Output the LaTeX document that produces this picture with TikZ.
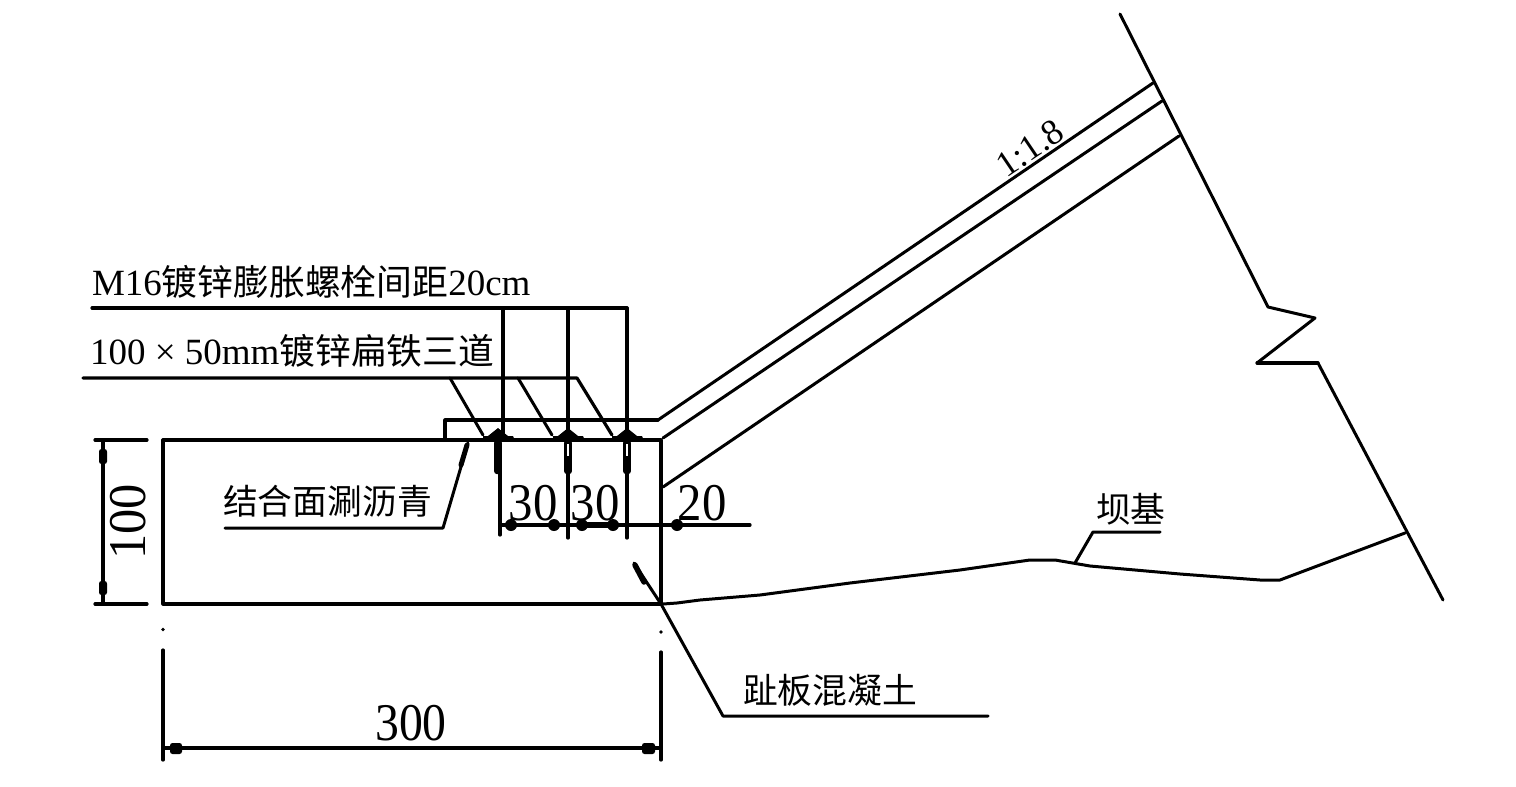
\documentclass[tikz,border=0pt]{standalone}
\usepackage{fontspec}
\setmainfont{Liberation Serif}
\newfontfamily\cjk{Noto Sans CJK SC}
\newcommand{\lab}[1]{\fontsize{37}{37}\selectfont #1}
\newcommand{\han}[1]{{\cjk\fontsize{34.8}{36}\selectfont #1}}
\newcommand{\hanb}[1]{{\cjk\fontsize{35.8}{36}\selectfont #1}}
\newcommand{\dimtxt}[1]{\fontsize{53}{53}\selectfont #1}
\tikzset{
  x=1pt,y=-1pt,
  line/.style={draw=black,line width=3.2pt,line cap=round,line join=round},
  thinline/.style={draw=black,line width=3pt,line cap=round,line join=round},
  lbl/.style={anchor=base west,inner sep=0pt,outer sep=0pt,text=black},
  dimlbl/.style={anchor=center,inner sep=0pt,outer sep=0pt,text=black},
  blob/.style={fill=black,draw=none,rounded corners=2.5pt},
}
\begin{document}
\begin{tikzpicture}
\useasboundingbox (0,0) rectangle (1516,787);
\fill[white] (0,0) rectangle (1516,787);
% key points
\coordinate (TL) at (163,440); \coordinate (TR) at (661,440);
\coordinate (BL) at (163,604); \coordinate (BR) at (661,604);
% concrete block
\draw[line] (TR) -- (TL) -- (BL) -- (BR) -- cycle;
% raised strip and sloped layers
\draw[line] (445,440) -- (445,420) -- (658,420);
\draw[thinline] (658,420) -- (1153,83);
\draw[thinline] (663,438) -- (1162,101);
\draw[thinline] (663,487) -- (1179,136);
% dam face
\draw[thinline] (1120,14) -- (1268,307) -- (1315,318) -- (1257,363);
\draw[line] (1257,363) -- (1318,363);
\draw[thinline] (1318,363) -- (1443,600);
% foundation
\draw[thinline] (663,604) -- (677,603) -- (700,600) -- (760,595) -- (850,583) -- (960,570) -- (1030,560) -- (1055,560) -- (1090,566) -- (1180,574) -- (1260,580) -- (1280,580) -- (1405,533);
% foundation leader
\draw[thinline] (1075,563) -- (1093,532) -- (1160,532);
\node[lbl] (kanji1) at (1096,522) {\han{坝基}};
% slope label
\node[dimlbl,rotate=34] (slope) at (1030,148) {\fontsize{36}{36}\selectfont 1:1.8};
% bolt leader
\draw[line] (92,308) -- (627,308);
\draw[line] (503,308) -- (503,440);
\draw[line] (568,308) -- (568,440);
\draw[line] (627,308) -- (627,440);
\node[lbl] (bolttxt) at (92,295) {\lab{M16}\hanb{镀锌膨胀螺栓间距}\lab{20cm}};
% flat iron leader
\draw[line] (83,378) -- (577,378) -- (612,435);
\draw[thinline] (450,378) -- (483,435);
\draw[thinline] (518,378) -- (552,435);
\node[lbl] (irontxt) at (90,364) {\lab{100 × 50mm}\hanb{镀锌扁铁三道}};
% bolt heads
\foreach \bx in {498,568,627}{
  \fill[black] (\bx-15,436) -- (\bx-10,436) -- (\bx,428) -- (\bx+10,436) -- (\bx+15,436) -- (\bx+17,441) -- (\bx-15,441) -- cycle;
  \fill[blob] (\bx-3.8,440) rectangle (\bx+3.8,474);
}
\fill[white] (567.2,444) rectangle (568.8,456);
\fill[white] (626.2,444) rectangle (627.8,456);
% 30/30/20 dimension
\draw[line] (500,470) -- (500,535);
\draw[line] (568,470) -- (568,538);
\draw[line] (627,470) -- (627,538);
\draw[line] (500,525) -- (750,525);
\foreach \dx in {511,554,582,613,677}{\fill[black] (\dx,525) circle[radius=6];}
\draw[line width=6pt] (582,525) -- (613,525);
\node[dimlbl,xscale=.92] (d30a) at (533,503) {\dimtxt{30}};
\node[dimlbl,xscale=.92] (d30b) at (595,503) {\dimtxt{30}};
\node[dimlbl,xscale=.92] (d20) at (702,503) {\dimtxt{20}};
% asphalt leader
\draw[thinline] (225,528) -- (443,528) -- (468,443);
\draw[line width=5pt,line cap=round] (461,465) -- (467,445);
\node[lbl] (asph) at (223,514) {\han{结合面涮沥青}};
% concrete leader
\draw[thinline] (634,563) -- (661,604) -- (723,716) -- (988,716);
\draw[line width=5.5pt,line cap=round] (635,565) -- (644,582);
\node[lbl] (conc) at (743,703) {\han{趾板混凝土}};
% 100 dimension
\draw[line] (95,440) -- (147,440);
\draw[line] (95,604) -- (147,604);
\draw[line] (103,440) -- (103,604);
\fill[blob] (99,449) rectangle (107,464);
\fill[blob] (99,581) rectangle (107,595);
\node[dimlbl,rotate=90,xscale=.95] (d100) at (128,522) {\dimtxt{100}};
% 300 dimension
\fill[black] (163,629.5) circle[radius=1.8];
\fill[black] (661,632) circle[radius=1.8];
\draw[line] (163,650) -- (163,760);
\draw[line] (661,652) -- (661,760);
\draw[line] (163,748) -- (661,748);
\fill[blob] (170,743) rectangle (182,754);
\fill[blob] (642,743) rectangle (655,754);
\node[dimlbl,xscale=.9] (d300) at (411,723) {\dimtxt{300}};
\end{tikzpicture}
\end{document}
